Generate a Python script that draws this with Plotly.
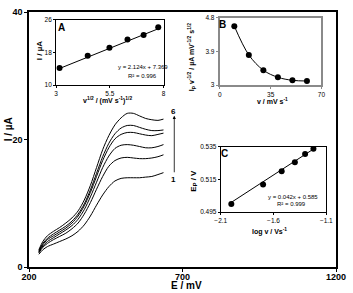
import plotly.graph_objects as go

# ---------------- data ----------------
E_mV = [232, 245, 260, 280, 300, 320, 340, 360, 380, 400, 420, 440, 460, 480, 500, 520, 540, 560, 580, 600, 620, 638]
I_c1 = [2.0, 2.7, 3.2, 3.6, 4.0, 4.4, 4.9, 5.6, 6.6, 8.0, 9.7, 11.3, 12.6, 13.5, 13.9, 14.0, 14.0, 14.0, 14.1, 14.2, 14.5, 14.8]
I_c2 = [2.2, 3.1, 3.7, 4.3, 4.8, 5.3, 6.0, 6.9, 8.3, 10.1, 12.2, 14.2, 15.8, 16.7, 17.1, 17.2, 17.1, 17.0, 17.0, 17.1, 17.3, 17.6]
I_c3 = [2.3, 3.3, 4.0, 4.6, 5.2, 5.8, 6.5, 7.5, 9.0, 11.0, 13.3, 15.6, 17.4, 18.6, 19.1, 19.2, 19.1, 18.9, 18.7, 18.7, 18.9, 19.2]
I_c4 = [2.4, 3.5, 4.3, 4.9, 5.5, 6.1, 6.9, 8.0, 9.6, 11.7, 14.2, 16.7, 18.7, 20.1, 20.8, 21.1, 21.1, 20.9, 20.7, 20.6, 20.8, 21.0]
I_c5 = [2.5, 3.7, 4.5, 5.2, 5.8, 6.4, 7.2, 8.3, 9.9, 12.1, 14.7, 17.3, 19.4, 20.9, 21.8, 22.2, 22.2, 21.9, 21.6, 21.4, 21.4, 21.5]
I_c6 = [2.7, 4.0, 4.9, 5.6, 6.2, 6.9, 7.7, 8.8, 10.5, 12.8, 15.6, 18.4, 20.6, 22.3, 23.4, 24.1, 24.1, 23.7, 23.3, 23.1, 23.0, 23.2]
curves = [I_c1, I_c2, I_c3, I_c4, I_c5, I_c6]

main_xticks = [200, 700, 1200]
main_yticks = [0, 20, 40]

# inset A: Ip vs v^1/2
A_x = [3.16, 4.47, 5.48, 6.32, 7.07, 7.75]
A_y = [14.2, 17.2, 19.2, 21.2, 22.3, 24.2]
A_fit = [2.124, 7.369]
A_xticks = [3, 5.5, 8]
A_yticks = [10, 18, 26]

# inset B: Ip v^-1/2 vs v
B_x = [10, 20, 30, 40, 50, 60]
B_y = [4.58, 3.81, 3.40, 3.21, 3.13, 3.11]
B_xticks = [0, 35, 70]
B_yticks = [3, 3.9, 4.8]

# inset C: Ep vs log v
C_x = [-2.0, -1.699, -1.523, -1.398, -1.301, -1.222]
C_y = [0.500, 0.512, 0.520, 0.5256, 0.5307, 0.5338]
C_fit = [0.042, 0.585]
C_xticks = [-2.1, -1.6, -1.1]
C_yticks = [0.495, 0.515, 0.535]

# ---------------- layout helpers ----------------
W, H = 353, 293
L, R, T, B = 29, 7, 9, 26
PW, PH = W - L - R, H - T - B
FONT = "Liberation Sans, Arial, sans-serif"


def px(x):
    return (x - L) / PW


def py(y):
    return (H - B - y) / PH


fig = go.Figure()

for ys in curves:
    fig.add_trace(go.Scatter(x=E_mV, y=ys, mode="lines", line=dict(color="black", width=1, shape="spline", smoothing=0.8),
                             xaxis="x", yaxis="y", showlegend=False, hoverinfo="skip"))

# inset A
fig.add_trace(go.Scatter(x=[A_x[0], A_x[-1]], y=[A_fit[0] * A_x[0] + A_fit[1], A_fit[0] * A_x[-1] + A_fit[1]],
                         mode="lines", line=dict(color="black", width=1), xaxis="x2", yaxis="y2", showlegend=False))
fig.add_trace(go.Scatter(x=A_x, y=A_y, mode="markers", marker=dict(color="black", size=6),
                         xaxis="x2", yaxis="y2", showlegend=False))
# inset B
fig.add_trace(go.Scatter(x=B_x, y=B_y, mode="lines+markers", line=dict(color="black", width=1, shape="spline"),
                         marker=dict(color="black", size=6), xaxis="x3", yaxis="y3", showlegend=False))
# inset C
fig.add_trace(go.Scatter(x=[C_x[0], C_x[-1]], y=[C_fit[0] * C_x[0] + C_fit[1], C_fit[0] * C_x[-1] + C_fit[1]],
                         mode="lines", line=dict(color="black", width=1), xaxis="x4", yaxis="y4", showlegend=False))
fig.add_trace(go.Scatter(x=C_x, y=C_y, mode="markers", marker=dict(color="black", size=6),
                         xaxis="x4", yaxis="y4", showlegend=False))

main_ax = dict(showline=True, mirror=True, linecolor="black", linewidth=1.5, ticks="outside", ticklen=3,
               tickcolor="black", showgrid=False, zeroline=False,
               tickfont=dict(family=FONT, size=9, color="black", weight="bold"))
inset_ax = dict(showline=True, mirror=True, linecolor="black", linewidth=1, ticks="outside", ticklen=2,
                tickcolor="black", showgrid=False, zeroline=False,
                tickfont=dict(family=FONT, size=6.5, color="black"))
inset_axB = dict(inset_ax, linecolor="#8a8a8a", linewidth=2, tickcolor="#8a8a8a")

fig.update_layout(
    width=W, height=H, margin=dict(l=L, r=R, t=T, b=B),
    paper_bgcolor="white", plot_bgcolor="white",
    xaxis=dict(main_ax, domain=[0, 1], range=[200, 1200], tickvals=main_xticks, anchor="y", ticklabelstandoff=-3),
    yaxis=dict(main_ax, domain=[0, 1], range=[0, 40], tickvals=main_yticks, anchor="x"),
    xaxis2=dict(inset_ax, domain=[px(57), px(168)], range=[3, 8], tickvals=A_xticks, anchor="y2"),
    yaxis2=dict(inset_ax, domain=[py(83), py(17)], range=[10, 26], tickvals=A_yticks, anchor="x2"),
    xaxis3=dict(inset_axB, domain=[px(226), px(331)], range=[0, 70], tickvals=B_xticks, anchor="y3"),
    yaxis3=dict(inset_axB, domain=[py(83), py(15)], range=[3, 4.8], tickvals=B_yticks, anchor="x3"),
    xaxis4=dict(inset_ax, domain=[px(227), px(336)], range=[-2.1, -1.1], tickvals=C_xticks, anchor="y4"),
    yaxis4=dict(inset_ax, domain=[py(211.5), py(145.5)], range=[0.495, 0.535], tickvals=C_yticks,
                ticktext=["0.495", "0.515", "0.535"], anchor="x4"),
)


def note(text, x, y, size=8, bold=True, angle=0):
    fig.add_annotation(text=text, x=px(x), y=py(y), xref="paper", yref="paper", showarrow=False,
                       textangle=angle, xanchor="center", yanchor="middle",
                       font=dict(family=FONT, size=size, color="black", weight="bold" if bold else "normal"))


# main titles
note("I / µA", 8, 128, size=10, angle=-90)
note("E / mV", 192, 286, size=10)
# curve labels and arrow
note("6", 178, 110, size=8)
note("1", 178, 178, size=8)
fig.add_annotation(x=px(179), y=py(114), ax=0, ay=58, xref="paper", yref="paper",
                   axref="pixel", ayref="pixel", text="", showarrow=True, arrowhead=2, arrowsize=0.8,
                   arrowwidth=0.8, arrowcolor="black")

# inset A texts
note("A", 63, 25, size=10)
note("I / µA", 40, 48, size=8, angle=-90)
note("v<sup>1/2</sup> / (mV s<sup>-1</sup>)<sup>1/2</sup>", 110, 99, size=7)
note("y = 2.124x + 7.369", 147, 65, size=6, bold=False)
note("R² = 0.996", 146, 74, size=6, bold=False)

# inset B texts
note("B", 229, 22, size=10)
note("I<sub>P</sub> v<sup>-1/2</sup> / µA mV<sup>-1/2</sup> s<sup>1/2</sup>", 197, 55, size=7, angle=-90)
note("v / mV s<sup>-1</sup>", 280, 99, size=7)

# inset C texts
note("C", 231, 152, size=10)
note("E<sub>P</sub> / V", 199, 180, size=8, angle=-90)
note("log v / Vs<sup>-1</sup>", 277, 231, size=7)
note("y = 0.042x + 0.585", 302, 196, size=6, bold=False)
note("R² = 0.999", 300, 203, size=6, bold=False)

fig.write_html("out.html")
